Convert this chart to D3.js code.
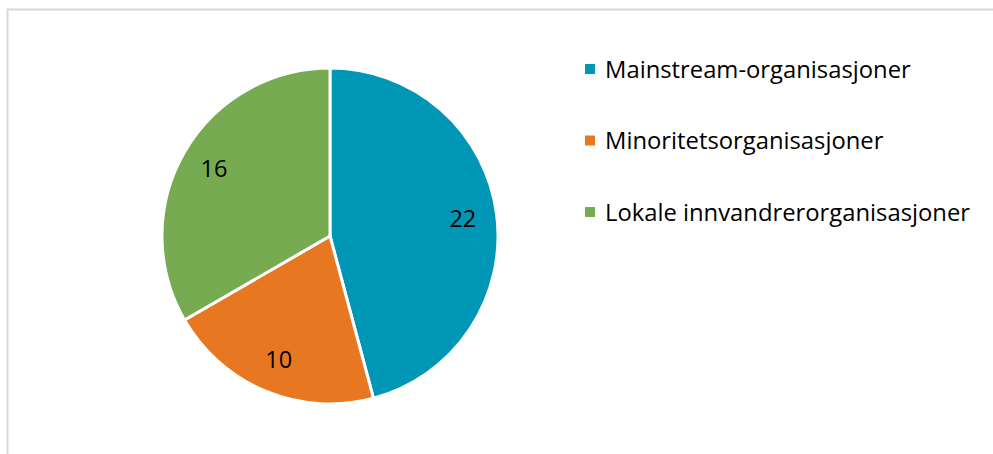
<!DOCTYPE html>
<html lang="no">
<head>
<meta charset="UTF-8">
<title>Organisasjoner</title>
<script src="https://d3js.org/d3.v7.min.js"></script>
<style>
    body { margin: 0; background: #fff; }
    svg { font-family: "Open Sans", "Noto Sans", sans-serif; }
</style>
</head>
<body>
<div id="chart"></div>
<script>
const width = 993;
const height = 454;

// data
const categories = ["Mainstream-organisasjoner", "Minoritetsorganisasjoner", "Lokale innvandrerorganisasjoner"];
const values = [22, 10, 16];
const colors = ["#0096b5", "#e87722", "#77ab51"];

const data = categories.map((c, i) => ({ name: c, value: values[i], color: colors[i] }));

const svg = d3.select("#chart").append("svg")
    .attr("width", width)
    .attr("height", height);

// frame (top + left edge visible)
svg.append("path")
    .attr("d", `M7.5,${height} V9.5 H${width}`)
    .attr("fill", "none")
    .attr("stroke", "#d9d9d9")
    .attr("stroke-width", 2);

const cx = 330, cy = 236, r = 168;

const pie = d3.pie().value(d => d.value).sort(null);
const arc = d3.arc().innerRadius(0).outerRadius(r);
const labelArc = d3.arc().innerRadius(134).outerRadius(134);

const g = svg.append("g").attr("transform", `translate(${cx},${cy})`);

const slices = g.selectAll("g.slice")
    .data(pie(data))
    .join("g")
    .attr("class", "slice");

slices.append("path")
    .attr("d", arc)
    .attr("fill", d => d.data.color)
    .attr("stroke", "#fff")
    .attr("stroke-width", 3)
    .attr("stroke-linejoin", "round");

slices.append("text")
    .attr("transform", d => `translate(${labelArc.centroid(d)})`)
    .attr("text-anchor", "middle")
    .attr("dy", "0.36em")
    .style("font-size", "23.5px")
    .attr("fill", "#000")
    .text(d => d.data.value);

// legend
const legend = svg.append("g").attr("transform", "translate(585,69)");
const item = legend.selectAll("g")
    .data(data)
    .join("g")
    .attr("transform", (d, i) => `translate(0,${i * 71.5})`);

item.append("rect")
    .attr("x", 0).attr("y", -5)
    .attr("width", 10).attr("height", 10)
    .attr("fill", d => d.color);

item.append("text")
    .attr("x", 20)
    .attr("y", 0)
    .attr("dy", "0.36em")
    .style("font-size", "23.8px")
    .attr("fill", "#000")
    .text(d => d.name);
</script>
</body>
</html>
